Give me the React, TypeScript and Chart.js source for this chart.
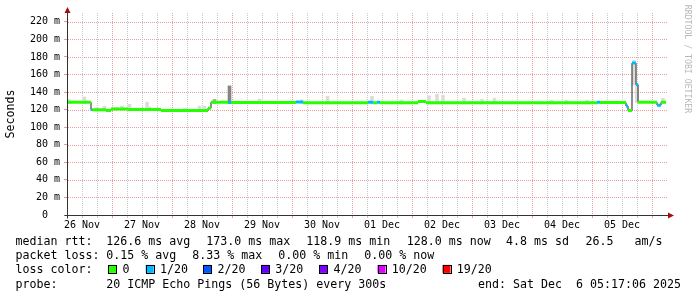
import React, { useEffect, useRef } from 'react';
import { Chart, registerables } from 'chart.js';

Chart.register(...registerables);

// ---- data (x values are hours since 26 Nov 06:00) ----
const dayLabels = ['26 Nov', '27 Nov', '28 Nov', '29 Nov', '30 Nov', '01 Dec', '02 Dec', '03 Dec', '04 Dec', '05 Dec'];

// median rtt step segments: start hour, median (ms), lost pings (of 20)
const segStart = [0, 9.6, 10.0, 15.6, 17.6, 24.4, 37.6, 56.4, 57.6, 64.4, 65.6, 91.6, 94.4, 120.4, 122.4, 124.0, 125.2, 140.4, 143.6, 212.0, 213.2, 223.6, 224.4, 226.0, 227.6, 228.4, 236.0, 237.6];
const segMedian = [128.4, 120.0, 119.7, 119.0, 120.8, 120.1, 119.0, 121.6, 128.4, 128.4, 128.2, 128.8, 127.8, 128.4, 127.8, 128.4, 127.8, 129.1, 127.9, 128.5, 128.0, 124.0, 119.0, 173.0, 148.5, 128.4, 125.0, 128.4];
const segLoss = [0, 1, 0, 0, 0, 0, 0, 0, 0, 1, 0, 1, 0, 1, 0, 1, 0, 0, 0, 1, 0, 1, 0, 1, 1, 0, 1, 0];
const seriesEnd = 239.6;

// smoke (ping spread) bars: hour, low, high, density (1 light .. 3 dark)
const smokeHour = [0.8, 7, 12, 15, 20, 22, 25, 32, 33, 47.2, 53, 55, 59, 65, 77, 94, 104.2, 122, 133.8, 144.8, 148, 150.4, 158.8, 166, 171, 193.8, 199.8, 208, 226.8, 227.9, 238.4];
const smokeLow = [127, 127, 118.5, 118.5, 119.5, 119.5, 119, 119, 119, 118, 118, 118, 127, 127, 127, 127, 126.5, 126.5, 126.5, 126.5, 126.5, 126.5, 126.5, 126.5, 126.5, 126.5, 126.5, 126.5, 148, 128, 127];
const smokeHigh = [131.6, 134.4, 122.4, 123.9, 122.4, 123.9, 126.1, 128.4, 123, 121.6, 123.9, 123.9, 131.6, 147, 132, 131, 135.2, 135, 131, 135.6, 137.5, 136.4, 133, 131.8, 133, 130.7, 130.7, 130.7, 176, 150, 132.9];
const smokeDensity = [1, 1, 1, 1, 1, 1, 1, 1, 1, 1, 1, 1, 2, 3, 1, 1, 1, 1, 1, 1, 1, 1, 1, 1, 1, 1, 1, 1, 1, 1, 1];

const lossLevels = [0, 1, 2, 3, 4, 10, 19];
const lossLabels = ['0', '1/20', '2/20', '3/20', '4/20', '10/20', '19/20'];
const lossColors = ['#26ff00', '#00b8ff', '#0059ff', '#5e00ff', '#7e00ff', '#dd00ff', '#ff0000'];

const rttTitle = 'median rtt:';
const rttStats = ['126.6 ms avg', '173.0 ms max', '118.9 ms min', '128.0 ms now', '4.8 ms sd', '26.5', 'am/s'];
const lossTitle = 'packet loss:';
const lossStats = ['0.15 % avg', '8.33 % max', '0.00 % min', '0.00 % now'];
const colorTitle = 'loss color:';
const probeTitle = 'probe:';
const probeText = '20 ICMP Echo Pings (56 Bytes) every 300s';
const endText = 'end: Sat Dec  6 05:17:06 2025';
const watermark = 'RRDTOOL / TOBI OETIKER';

// ---- layout / style ----
const MONO = '"DejaVu Sans Mono", monospace';
const MAJOR = '#eb9c9c';
const MINOR = '#c8c8c8';
const smokeColors = ['#dcdcdc', '#a8a8a8', '#858585'];
const legendRows = [245, 259.2, 273.4, 287.6];
const rttX = [106.3, 206.3, 306.3, 406.8, 506, 585.5, 634.5];
const lossX = [106.3, 192.3, 278.3, 364.3];
const boxX = [108.3, 145.7, 203.3, 261, 319.2, 377.5, 442.5];

const isMajorX = (v: number) => (v - 18) % 24 === 0;
const isMajorY = (v: number) => v % 20 === 0;

// dotted grid drawn from the scales' own ticks, behind the data
const dottedGrid = {
  id: 'dottedGrid',
  beforeDatasetsDraw(chart: any) {
    const { ctx, chartArea: a, scales } = chart;
    const top = Math.round(a.top);
    const bottom = Math.round(a.bottom);
    const left = Math.round(a.left);
    const right = Math.round(a.right);
    ctx.save();
    scales.y.ticks.forEach((t: any) => {
      if (t.value <= 0) return;
      const y = Math.round(scales.y.getPixelForValue(t.value));
      ctx.fillStyle = isMajorY(t.value) ? MAJOR : MINOR;
      for (let x = left + 1; x < right; x += 2) ctx.fillRect(x, y, 1, 1);
    });
    scales.x.ticks.forEach((t: any) => {
      if (t.value <= 0 || t.value >= 240) return;
      const x = Math.round(scales.x.getPixelForValue(t.value));
      ctx.fillStyle = isMajorX(t.value) ? MAJOR : MINOR;
      for (let y = top; y < bottom; y += 2) ctx.fillRect(x, y, 1, 1);
    });
    ctx.restore();
  },
};

const decor = {
  id: 'decor',
  afterDraw(chart: any) {
    const { ctx, chartArea: a } = chart;
    ctx.save();
    // axes
    const ax = Math.round(a.left) + 0.5;
    const ay = Math.round(a.bottom) + 0.5;
    ctx.strokeStyle = '#333';
    ctx.lineWidth = 1;
    ctx.beginPath();
    ctx.moveTo(ax, ay + 3);
    ctx.lineTo(ax, a.top - 1);
    ctx.moveTo(ax - 3, ay);
    ctx.lineTo(a.right + 2, ay);
    ctx.stroke();
    ctx.fillStyle = '#a01010';
    ctx.beginPath();
    ctx.moveTo(ax, a.top - 6);
    ctx.lineTo(ax - 3, a.top);
    ctx.lineTo(ax + 3, a.top);
    ctx.closePath();
    ctx.fill();
    ctx.beginPath();
    ctx.moveTo(a.right + 7, ay);
    ctx.lineTo(a.right + 1, ay - 3);
    ctx.lineTo(a.right + 1, ay + 3);
    ctx.closePath();
    ctx.fill();

    // legend
    ctx.font = '11.63px ' + MONO;
    ctx.fillStyle = '#000';
    ctx.textBaseline = 'alphabetic';
    ctx.textAlign = 'left';
    ctx.fillText(rttTitle, 15.5, legendRows[0]);
    rttStats.forEach((t, i) => ctx.fillText(t, rttX[i], legendRows[0]));
    ctx.fillText(lossTitle, 15.5, legendRows[1]);
    lossStats.forEach((t, i) => ctx.fillText(t, lossX[i], legendRows[1]));
    ctx.fillText(colorTitle, 15.5, legendRows[2]);
    lossLabels.forEach((t, i) => {
      ctx.fillStyle = lossColors[i];
      ctx.fillRect(boxX[i], legendRows[2] - 8.5, 8, 8);
      ctx.strokeStyle = '#000';
      ctx.lineWidth = 1;
      ctx.strokeRect(Math.round(boxX[i]) + 0.5, Math.round(legendRows[2] - 8.5) + 0.5, 8, 8);
      ctx.fillStyle = '#000';
      ctx.fillText(t, boxX[i] + 14.2, legendRows[2]);
    });
    ctx.fillText(probeTitle, 15.5, legendRows[3]);
    ctx.fillText(probeText, 106.3, legendRows[3]);
    ctx.textAlign = 'right';
    ctx.fillText(endText, 681, legendRows[3]);

    // watermark
    ctx.translate(687, 59);
    ctx.rotate(Math.PI / 2);
    ctx.font = '8.2px ' + MONO;
    ctx.fillStyle = '#b8b8b8';
    ctx.textAlign = 'center';
    ctx.textBaseline = 'middle';
    ctx.fillText(watermark, 0, 0);
    ctx.restore();
  },
};

function buildConfig(): any {
  const medianLine = segStart.map((s, i) => ({ x: s, y: segMedian[i] }));
  medianLine.push({ x: seriesEnd, y: segMedian[segMedian.length - 1] });

  const lossSets = lossLevels
    .map((lvl, k) => {
      const next = k + 1 < lossLevels.length ? lossLevels[k + 1] : Infinity;
      const pts: any[] = [];
      segStart.forEach((s, i) => {
        if (segLoss[i] >= lvl && segLoss[i] < next) {
          const e = i + 1 < segStart.length ? segStart[i + 1] : seriesEnd;
          pts.push({ x: s, y: segMedian[i] }, { x: e, y: segMedian[i] }, { x: e, y: null });
        }
      });
      return {
        type: 'line',
        label: lossLabels[k],
        data: pts,
        borderColor: lossColors[k],
        borderWidth: 3,
        borderCapStyle: 'butt',
        pointRadius: 0,
        spanGaps: false,
        fill: false,
        tension: 0,
        order: 1,
      };
    })
    .filter((d) => d.data.length > 0);

  const smoke = {
    type: 'bar',
    label: 'smoke',
    data: smokeHour.map((h, i) => ({ x: h, y: [smokeLow[i], smokeHigh[i]] })),
    backgroundColor: (c: any) => smokeColors[(smokeDensity[c.dataIndex] || 1) - 1],
    borderWidth: 0,
    barThickness: 3,
    order: 3,
  };

  const median = {
    type: 'line',
    label: 'median',
    data: medianLine,
    borderColor: '#202020',
    borderWidth: 1,
    stepped: 'before',
    pointRadius: 0,
    fill: false,
    order: 2,
  };

  const tickFont = { family: MONO, size: 10 };

  return {
    type: 'line',
    data: { datasets: [smoke, median, ...lossSets] },
    plugins: [dottedGrid, decor],
    options: {
      responsive: false,
      animation: false,
      devicePixelRatio: 1,
      events: [],
      layout: { padding: { left: 0, right: 30, top: 13, bottom: 0 } },
      plugins: { legend: { display: false }, tooltip: { enabled: false }, title: { display: false } },
      scales: {
        x: {
          type: 'linear',
          min: 0,
          max: 240,
          offset: false,
          afterFit: (s: any) => {
            s.height = 82;
          },
          ticks: {
            stepSize: 6,
            autoSkip: false,
            maxRotation: 0,
            minRotation: 0,
            maxTicksLimit: 1000,
            padding: 1,
            color: '#000',
            font: tickFont,
            callback: (v: number) => {
              const d = (v - 6) / 24;
              return Number.isInteger(d) && d >= 0 && d < dayLabels.length ? dayLabels[d] : '';
            },
          },
          grid: {
            offset: false,
            drawOnChartArea: false,
            lineWidth: 1,
            tickLength: 3,
            tickColor: (c: any) => {
              const v = c.tick ? c.tick.value : 0;
              if (v >= 240) return 'rgba(0,0,0,0)';
              return isMajorX(v) ? MAJOR : MINOR;
            },
          },
          border: { display: false },
        },
        y: {
          type: 'linear',
          min: 0,
          max: 230,
          afterFit: (s: any) => {
            s.width = 67;
          },
          ticks: {
            stepSize: 10,
            maxTicksLimit: 1000,
            padding: 4,
            color: '#000',
            font: tickFont,
            callback: (v: number) => (v % 20 === 0 ? (v === 0 ? '0  ' : v + ' m') : ''),
          },
          grid: {
            drawOnChartArea: false,
            lineWidth: 1,
            tickLength: 3,
            tickColor: (c: any) => {
              const v = c.tick ? c.tick.value : 0;
              return isMajorY(v) ? MAJOR : MINOR;
            },
          },
          border: { display: false },
          title: {
            display: true,
            text: 'Seconds',
            color: '#000',
            font: { family: MONO, size: 11.63 },
            padding: { top: 3.5, bottom: 0 },
          },
        },
      },
    },
  };
}

export default function App() {
  const ref = useRef<HTMLCanvasElement>(null);
  useEffect(() => {
    if (!ref.current) return;
    const chart = new Chart(ref.current, buildConfig());
    return () => chart.destroy();
  }, []);
  return (
    <div style={{ position: 'absolute', left: 0, top: 0, width: 697, height: 297, background: '#fff' }}>
      <canvas ref={ref} width={697} height={297} style={{ display: 'block', width: 697, height: 297 }} />
    </div>
  );
}
